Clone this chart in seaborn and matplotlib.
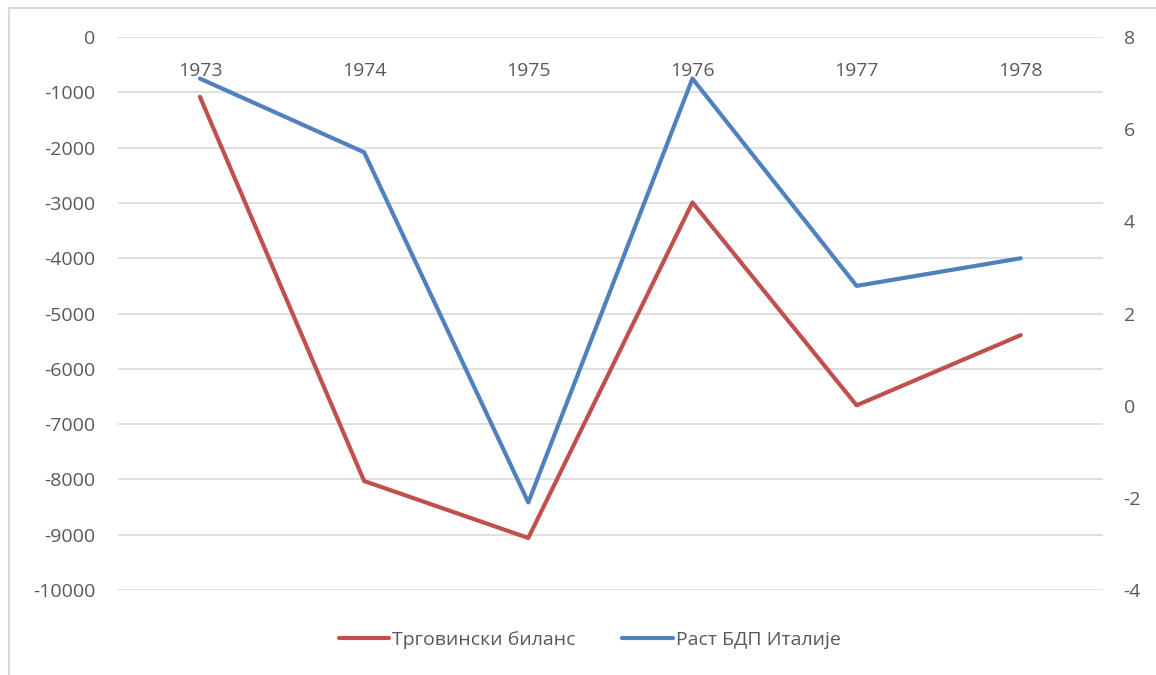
import matplotlib
matplotlib.use('Agg')
import matplotlib.pyplot as plt
import seaborn as sns
import pandas as pd

# Data
years = [1973, 1974, 1975, 1976, 1977, 1978]
trade_balance = [-1080, -8030, -9060, -2990, -6660, -5390]
gdp_growth = [7.1, 5.5, -2.1, 7.1, 2.6, 3.2]
left_ticks = [0, -1000, -2000, -3000, -4000, -5000, -6000, -7000, -8000, -9000, -10000]
right_ticks = [8, 6, 4, 2, 0, -2, -4]

red = '#C0504D'
blue = '#4F81BD'
text_color = '#595959'
grid_color = '#D9D9D9'

sns.set_style('white')
plt.rcParams['font.family'] = ['Open Sans', 'DejaVu Sans']
plt.rcParams['axes.unicode_minus'] = False

df = pd.DataFrame({'year': years, 'trade': trade_balance, 'gdp': gdp_growth})

fig = plt.figure(figsize=(11.56, 6.75), dpi=100)
ax = fig.add_axes([0.102, 0.126, 0.852, 0.819])
ax2 = ax.twinx()

sns.lineplot(data=df, x='year', y='trade', ax=ax, color=red, linewidth=3.0,
             sort=False, label='Трговински биланс', legend=False)
sns.lineplot(data=df, x='year', y='gdp', ax=ax2, color=blue, linewidth=3.0,
             sort=False, label='Раст БДП Италије', legend=False)

ax.set_xlim(years[0] - 0.5, years[-1] + 0.5)
ax.set_ylim(-10000, 0)
ax2.set_ylim(-4, 8)
ax.set_yticks(left_ticks)
ax2.set_yticks(right_ticks)
ax.set_xticks(years)
ax.set_xticklabels([str(y) for y in years])

ax.grid(axis='y', color=grid_color, linewidth=1.2)
ax.set_axisbelow(True)
ax2.grid(False)

for a in (ax, ax2):
    for s in a.spines.values():
        s.set_visible(False)
    a.set_xlabel('')
    a.set_ylabel('')

fs = 14
ax.tick_params(axis='y', length=0, pad=16, labelsize=fs, colors=text_color)
ax2.tick_params(axis='y', length=0, pad=15, labelsize=fs, colors=text_color)
# x labels sit just below the zero line at the top
ax.xaxis.set_ticks_position('top')
ax.xaxis.set_label_position('top')
for lbl in ax.get_xticklabels():
    lbl.set_verticalalignment('top')
ax.tick_params(axis='x', length=0, pad=-18, labelsize=fs, colors=text_color)

h1, l1 = ax.get_legend_handles_labels()
h2, l2 = ax2.get_legend_handles_labels()
fig.legend(h1 + h2, l1 + l2, loc='center', bbox_to_anchor=(0.51, 0.052),
           ncol=2, frameon=False, fontsize=fs, labelcolor=text_color,
           handlelength=2.6, handletextpad=0.15, columnspacing=2.4)

# outer chart border
border = plt.Rectangle((9 / 1156, -0.1), 1.2, 1 - 8 / 675 + 0.1,
                       transform=fig.transFigure, fill=False,
                       edgecolor=grid_color, linewidth=1.5)
fig.add_artist(border)

fig.savefig('out.png', dpi=100)
